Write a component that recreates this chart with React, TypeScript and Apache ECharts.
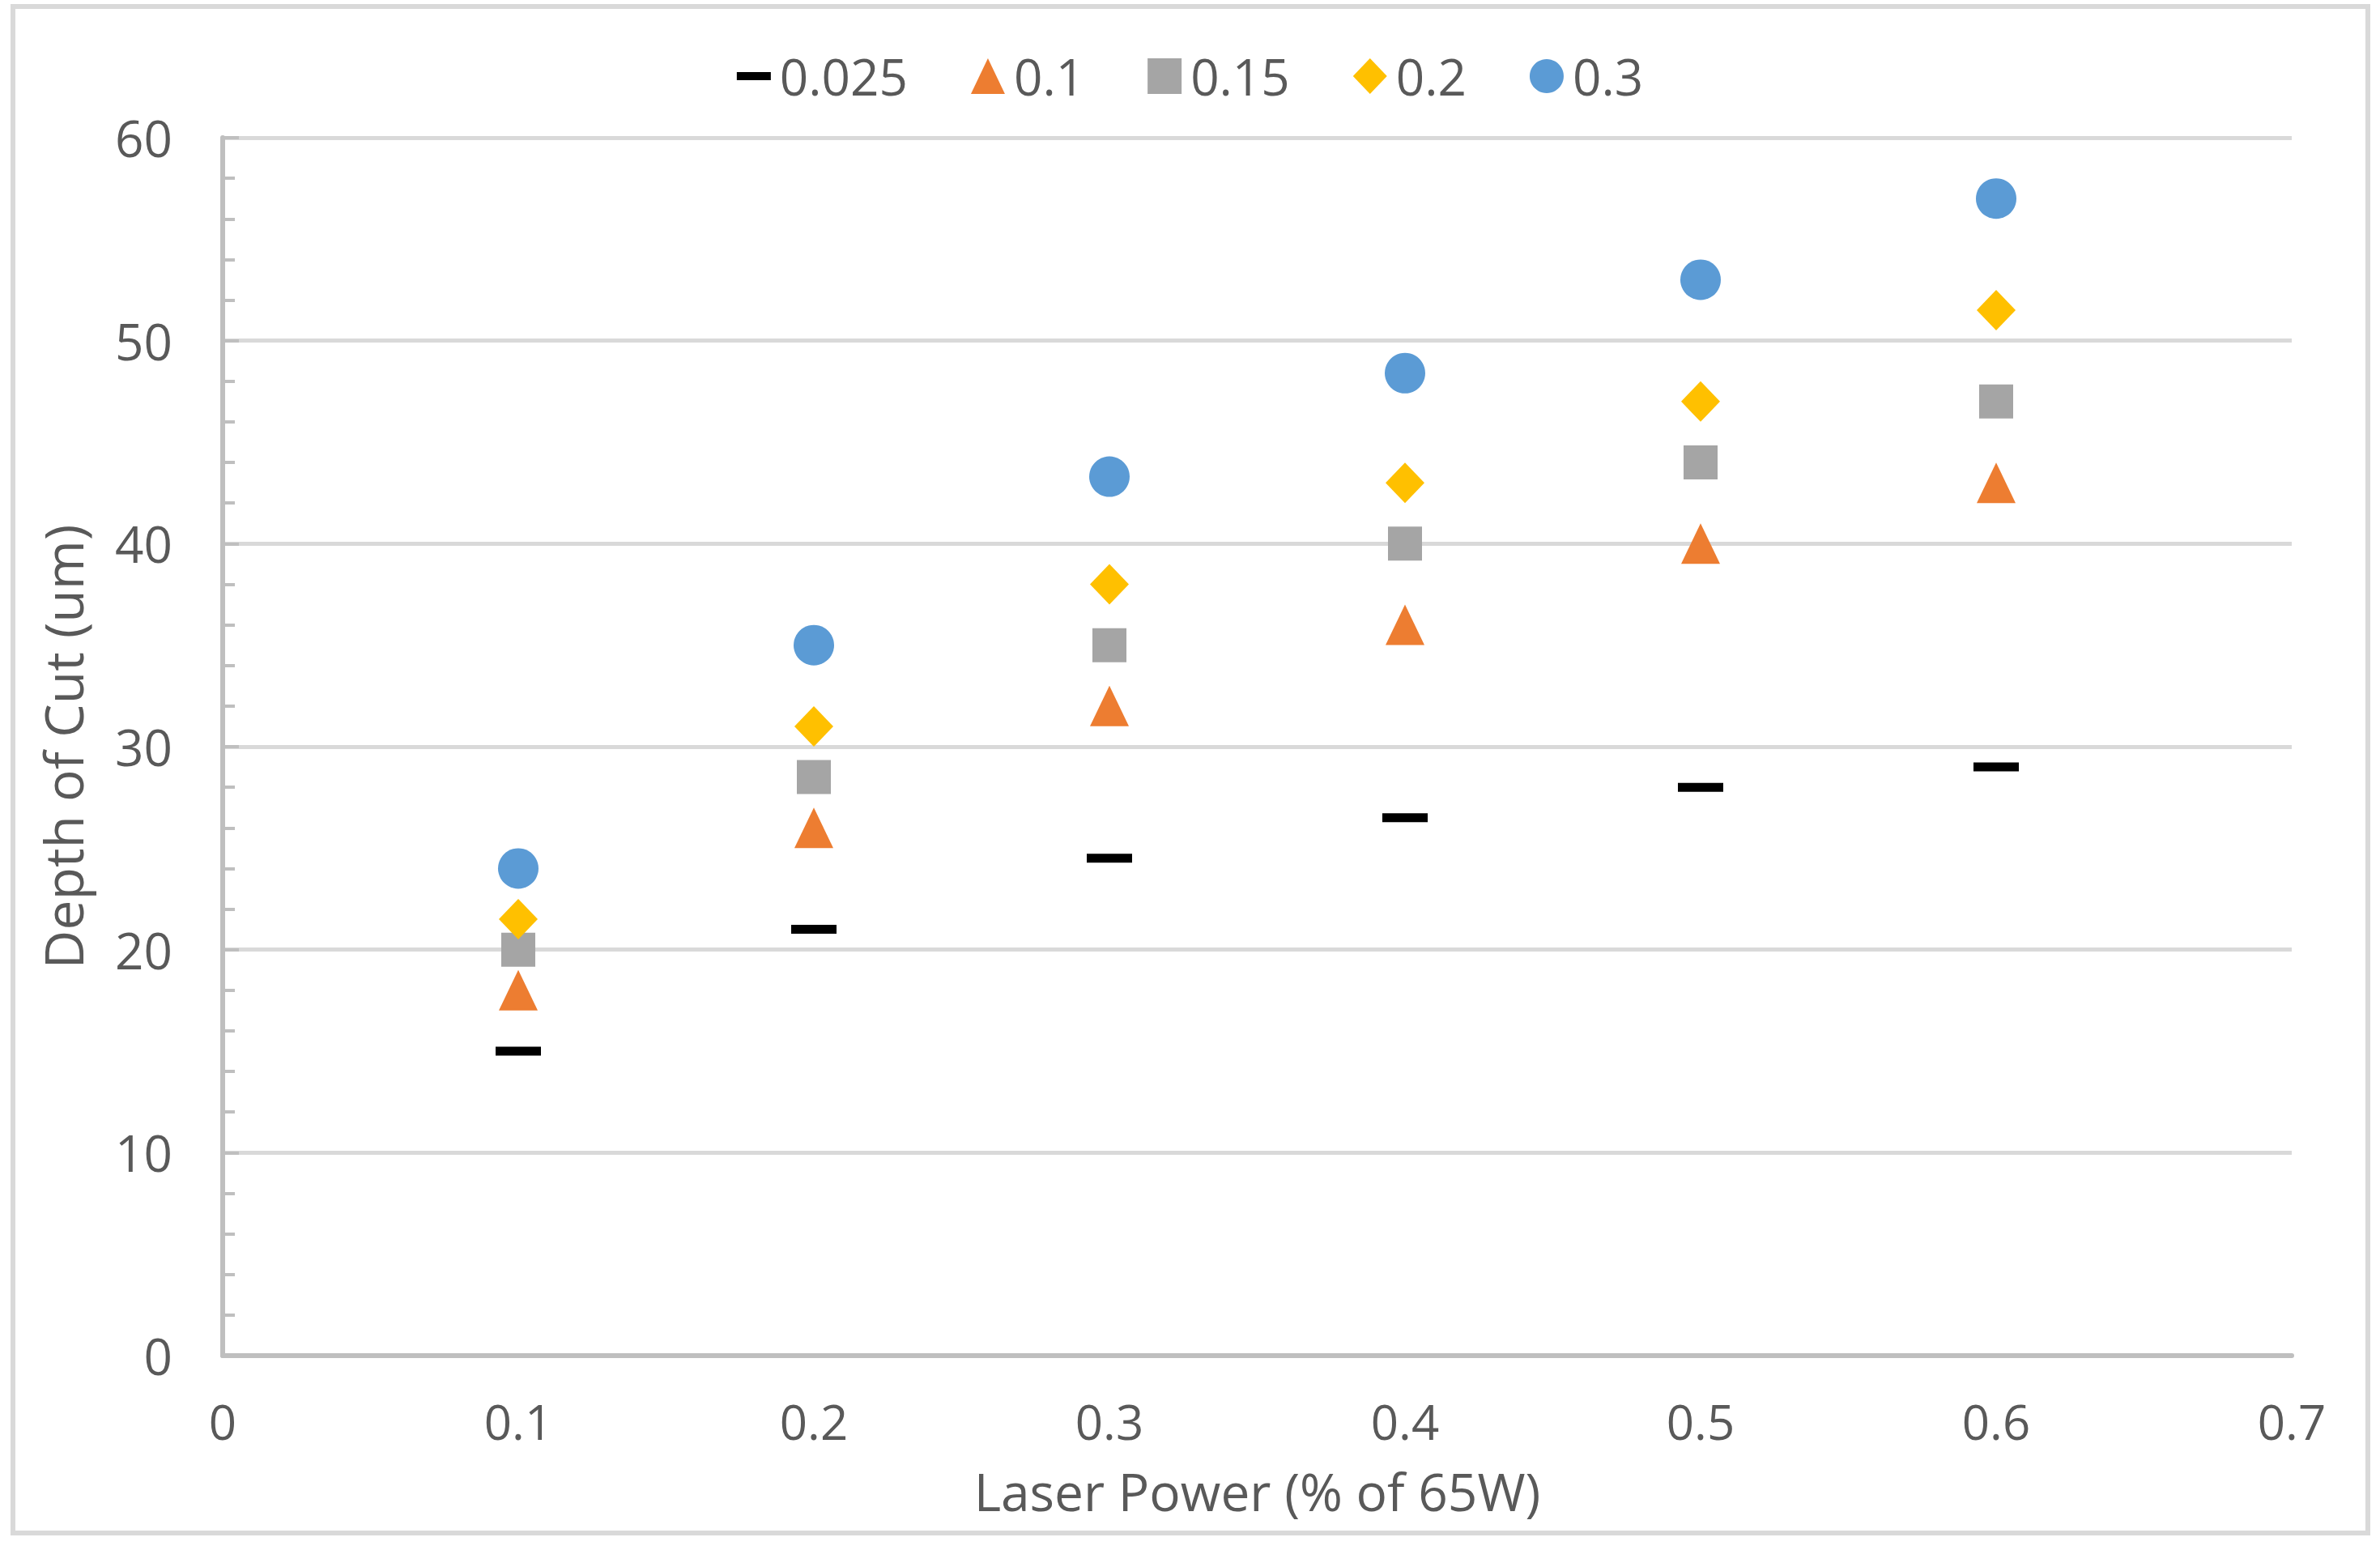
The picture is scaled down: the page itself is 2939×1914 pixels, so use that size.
import React, { useEffect, useRef } from "react";
import * as echarts from "echarts";

const xValues = [0.1, 0.2, 0.3, 0.4, 0.5, 0.6];
const seriesNames = ["0.025", "0.1", "0.15", "0.2", "0.3"];
const s0025 = [15, 21, 24.5, 26.5, 28, 29];
const s01 = [18, 26, 32, 36, 40, 43];
const s015 = [20, 28.5, 35, 40, 44, 47];
const s02 = [21.5, 31, 38, 43, 47, 51.5];
const s03 = [24, 35, 43.3, 48.4, 53, 57];
const yTitle = "Depth of Cut (um)";
const xTitle = "Laser Power (% of 65W)";

const FONT = "'Open Sans', 'Noto Sans', sans-serif";
const TXT = "#595959";

export default function App() {
  const ref = useRef<HTMLDivElement>(null);
  useEffect(() => {
    document.body.style.margin = "0";
    const chart = echarts.init(ref.current!, null, { renderer: "svg" });
    const pts = (ys: number[]) => xValues.map((x, i) => [x, ys[i]]);
    const styles = [
      { data: s0025, symbol: "rect", size: [56, 11], color: "#000000", icon: "path://M0,0H38V9H0Z" },
      { data: s01, symbol: "triangle", size: [48, 50], color: "#ED7D31", icon: "triangle" },
      { data: s015, symbol: "rect", size: [42, 42], color: "#A5A5A5", icon: "rect" },
      { data: s02, symbol: "diamond", size: [48, 50], color: "#FFC000", icon: "diamond" },
      { data: s03, symbol: "circle", size: 50, color: "#5B9BD5", icon: "circle" },
    ];
    chart.setOption({
      animation: false,
      backgroundColor: "#ffffff",
      textStyle: { fontFamily: FONT },
      graphic: [
        {
          type: "rect",
          shape: { x: 16, y: 8, width: 2908, height: 1885 },
          style: { fill: "none", stroke: "#d9d9d9", lineWidth: 6 },
          silent: true,
        },
      ],
      legend: {
        top: 58,
        left: "center",
        itemWidth: 42,
        itemHeight: 44,
        itemGap: 78,
        textStyle: { fontSize: 62, color: TXT, fontFamily: FONT, padding: [0, 0, 0, 6] },
        data: seriesNames.map((n, i) => ({ name: n, icon: styles[i].icon })),
      },
      grid: { left: 275, right: 109, top: 170, bottom: 240, containLabel: false },
      xAxis: {
        type: "value",
        min: 0,
        max: 0.7,
        interval: 0.1,
        name: xTitle,
        nameLocation: "middle",
        nameGap: 135,
        nameTextStyle: { fontSize: 64, color: TXT, fontFamily: FONT },
        axisLine: { show: true, lineStyle: { color: "#bfbfbf", width: 6 } },
        axisTick: { show: false },
        splitLine: { show: false },
        axisLabel: {
          fontSize: 60,
          color: TXT,
          fontFamily: FONT,
          margin: 51,
          formatter: (v: number) => (v === 0 ? "0" : v.toFixed(1)),
        },
      },
      yAxis: {
        type: "value",
        min: 0,
        max: 60,
        interval: 10,
        name: yTitle,
        nameLocation: "middle",
        nameGap: 165,
        nameTextStyle: { fontSize: 66, color: TXT, fontFamily: FONT },
        axisLine: { show: true, lineStyle: { color: "#bfbfbf", width: 6 } },
        axisTick: { show: true, inside: true, length: 20, lineStyle: { color: "#bfbfbf", width: 4 } },
        minorTick: { show: true, splitNumber: 5, length: 15, lineStyle: { color: "#bfbfbf", width: 4 } },
        splitLine: { show: true, lineStyle: { color: "#d9d9d9", width: 5 } },
        axisLabel: { fontSize: 62, color: TXT, fontFamily: FONT, margin: 62 },
      },
      series: styles.map((s, i) => ({
        type: "scatter",
        name: seriesNames[i],
        data: pts(s.data),
        symbol: s.symbol,
        symbolSize: s.size,
        itemStyle: { color: s.color, opacity: 1 },
        z: 2 + i,
      })),
    });
    return () => chart.dispose();
  }, []);
  return <div ref={ref} style={{ width: 2939, height: 1914 }} />;
}
